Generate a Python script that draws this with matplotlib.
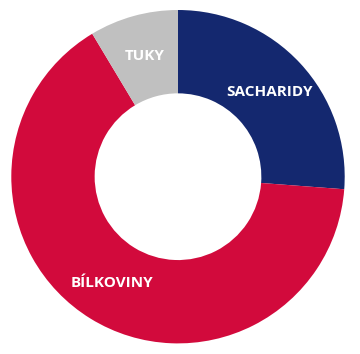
import matplotlib.pyplot as plt

# podíly živin (odhad z obrázku, v %)
labels = ['SACHARIDY', 'BÍLKOVINY', 'TUKY']
values = [26.2, 65.2, 8.6]
colors = ['#14286F', '#D20A3C', '#C0C0C0']

fig = plt.figure(figsize=(3.6, 3.54), dpi=100)
ax = fig.add_axes([11.3 / 360, 10.6 / 354, 333.4 / 360, 333.4 / 354])

wedges, texts = ax.pie(values, colors=colors, startangle=90, counterclock=False,
                       radius=1, wedgeprops=dict(width=0.5, linewidth=0),
                       labels=labels, labeldistance=0.75,
                       textprops=dict(color='white', fontweight='bold', fontsize=11,
                                      family=['Open Sans', 'DejaVu Sans'],
                                      ha='center', va='center'))

ax.set_xlim(-1, 1)
ax.set_ylim(-1, 1)
ax.axis('off')

fig.savefig('out.png', dpi=100)
